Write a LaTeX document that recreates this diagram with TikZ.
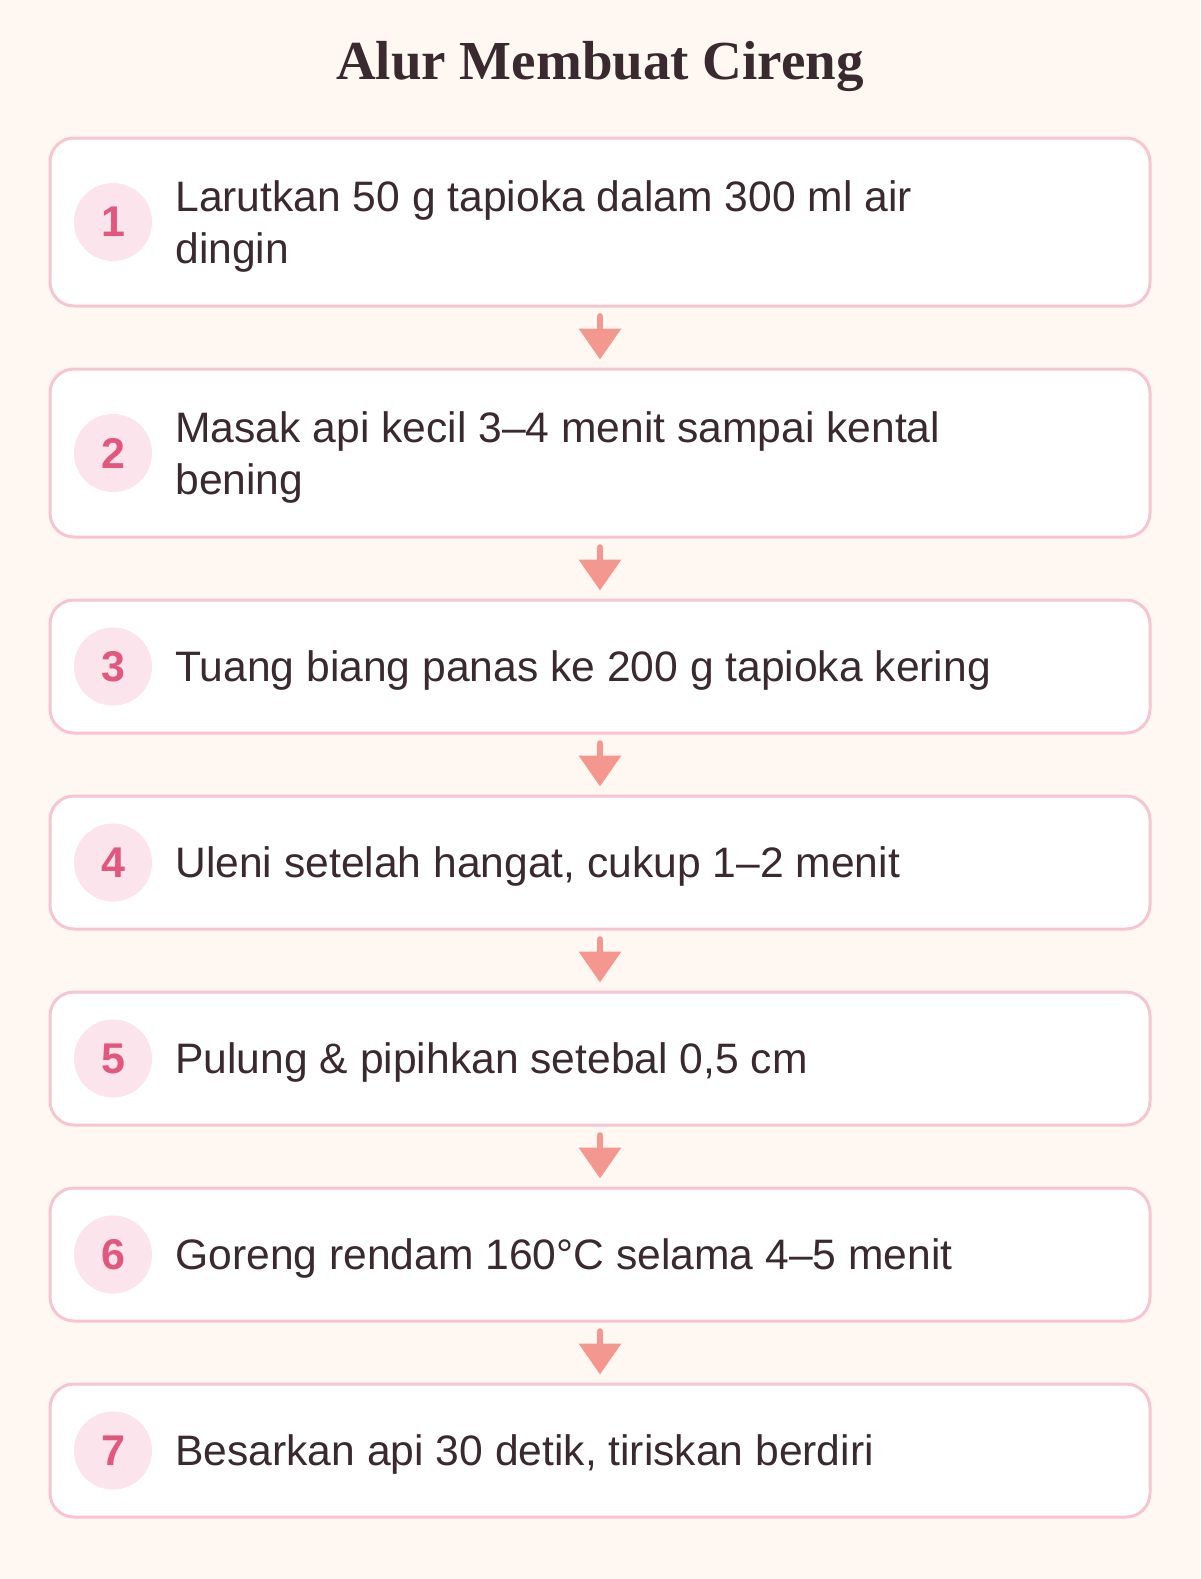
\documentclass[tikz,border=0pt]{standalone}
\usepackage{fontspec}
\setmainfont{Liberation Sans}
\newfontfamily\titlefont{Liberation Serif}
\usetikzlibrary{arrows.meta}
\definecolor{bgcream}{HTML}{FFF7F2}
\definecolor{boxline}{HTML}{F7C5D2}
\definecolor{badgefill}{HTML}{FCE4EC}
\definecolor{badgetext}{HTML}{E2577D}
\definecolor{inktext}{HTML}{3A2A30}
\definecolor{arrowsalmon}{HTML}{F4978E}
\tikzset{
  stepbox/.style={draw=boxline, line width=1.5pt, fill=white, rounded corners=12pt, minimum width=550pt, inner sep=0pt},
  badge/.style={circle, fill=badgefill, minimum size=39pt, inner sep=0pt, text=badgetext, font=\fontsize{21.5}{24}\selectfont\bfseries},
  steptext/.style={anchor=west, align=left, inner sep=0pt, yshift=-2pt, text=inktext, font=\fontsize{21.3}{26}\selectfont},
  flow/.style={draw=arrowsalmon, line width=3.3pt, line cap=round, -{Triangle[width=20.5pt,length=15.5pt]}, shorten <=4.5pt, shorten >=4pt}
}
\begin{document}
\begin{tikzpicture}[x=0.5pt, y=-0.5pt]
	\useasboundingbox[fill=bgcream] (0,0) rectangle (1200,1579);
	\node[font=\titlefont\fontsize{27.5}{30}\selectfont\bfseries, text=inktext, anchor=base] (title) at (600,79) {Alur Membuat Cireng};
	% langkah-langkah
	\node[stepbox, minimum height=84pt] (s1) at (600,222) {};
	\node[badge] (b1) at (113,222) {1};
	\node[steptext] (t1) at (175,222) {Larutkan 50 g tapioka dalam 300 ml air\\dingin};
	\node[stepbox, minimum height=84pt] (s2) at (600,453) {};
	\node[badge] (b2) at (113,453) {2};
	\node[steptext] (t2) at (175,453) {Masak api kecil 3–4 menit sampai kental\\bening};
	\node[stepbox, minimum height=66.5pt] (s3) at (600,666.5) {};
	\node[badge] (b3) at (113,666.5) {3};
	\node[steptext] (t3) at (175,666.5) {Tuang biang panas ke 200 g tapioka kering};
	\node[stepbox, minimum height=66.5pt] (s4) at (600,862.5) {};
	\node[badge] (b4) at (113,862.5) {4};
	\node[steptext] (t4) at (175,862.5) {Uleni setelah hangat, cukup 1–2 menit};
	\node[stepbox, minimum height=66.5pt] (s5) at (600,1058.5) {};
	\node[badge] (b5) at (113,1058.5) {5};
	\node[steptext] (t5) at (175,1058.5) {Pulung \& pipihkan setebal 0,5 cm};
	\node[stepbox, minimum height=66.5pt] (s6) at (600,1254.5) {};
	\node[badge] (b6) at (113,1254.5) {6};
	\node[steptext] (t6) at (175,1254.5) {Goreng rendam 160°C selama 4–5 menit};
	\node[stepbox, minimum height=66.5pt] (s7) at (600,1450.5) {};
	\node[badge] (b7) at (113,1450.5) {7};
	\node[steptext] (t7) at (175,1450.5) {Besarkan api 30 detik, tiriskan berdiri};
	% panah
	\draw[flow] (s1.south) -- (s2.north);
	\draw[flow] (s2.south) -- (s3.north);
	\draw[flow] (s3.south) -- (s4.north);
	\draw[flow] (s4.south) -- (s5.north);
	\draw[flow] (s5.south) -- (s6.north);
	\draw[flow] (s6.south) -- (s7.north);
\end{tikzpicture}
\end{document}
